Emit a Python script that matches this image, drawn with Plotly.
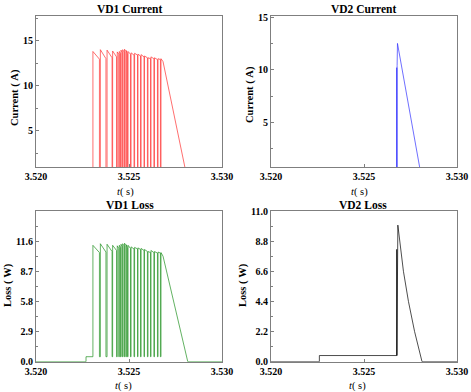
import plotly.graph_objects as go

# ---------------- data ----------------
x_ticks = [3.520, 3.525, 3.530]
x_tick_labels = ["3.520", "3.525", "3.530"]
i1_ticks = [5, 10, 15]
i2_ticks = [5, 10, 15]
p1_ticks = [0.0, 2.9, 5.8, 8.7, 11.6]
p2_ticks = [0.0, 2.2, 4.4, 6.6, 8.8, 11.0]

# VD1 switching pulses (rise / fall times, values at rise and at fall)
vd1_rise = [3.52306, 3.52346, 3.52382, 3.52412, 3.52437, 3.52448, 3.52457, 3.52466,
            3.52476, 3.52486, 3.52495, 3.52511, 3.52530, 3.52548, 3.52565, 3.52583,
            3.52602, 3.52618, 3.52637, 3.52656, 3.52672]
vd1_fall = [3.52341, 3.52376, 3.52409, 3.52433, 3.52445, 3.52454, 3.52463, 3.52473,
            3.52483, 3.52492, 3.52508, 3.52527, 3.52546, 3.52562, 3.52581, 3.52599,
            3.52616, 3.52634, 3.52653, 3.52669, 3.52683]
vd1_i_peak = [13.8, 14.0, 13.95, 13.85, 13.75, 13.8, 13.95, 14.0, 14.05, 13.9, 13.8,
              13.65, 13.6, 13.5, 13.45, 13.3, 13.1, 13.2, 13.1, 13.0, 13.0]
vd1_i_end = [12.95, 13.0, 13.1, 13.2, 13.5, 13.6, 13.7, 13.75, 13.8, 13.6, 13.5,
             13.4, 13.4, 13.3, 13.2, 13.1, 13.0, 13.0, 12.9, 12.9, 12.67]
vd1_i_tail_t = [3.52683, 3.52810]
vd1_i_tail = [12.67, 0.0]

vd1_p_peak = [11.2, 11.35, 11.3, 11.2, 11.15, 11.2, 11.3, 11.35, 11.4, 11.25, 11.2,
              11.05, 11.0, 10.95, 10.9, 10.8, 10.6, 10.7, 10.6, 10.55, 10.5]
vd1_p_end = [10.5, 10.55, 10.6, 10.7, 10.9, 11.0, 11.1, 11.15, 11.2, 11.0, 10.9,
             10.85, 10.85, 10.8, 10.7, 10.6, 10.5, 10.5, 10.45, 10.45, 10.15]
vd1_p_off = 0.48
vd1_p_off_start = 3.52269
vd1_p_tail_t = [3.52683, 3.52816]
vd1_p_tail = [10.15, 0.0]

# VD2
vd2_i_t = [3.52000, 3.52676, 3.52676, 3.52677, 3.52678, 3.52680, 3.52807, 3.53000]
vd2_i = [0.0, 0.0, 10.2, 0.0, 10.4, 12.5, 0.0, 0.0]

vd2_p_t = [3.52000, 3.52260, 3.52260, 3.52676, 3.52676, 3.52677, 3.52682, 3.52712,
           3.52739, 3.52772, 3.52812, 3.53000]
vd2_p = [0.0, 0.0, 0.45, 0.45, 8.2, 0.45, 9.97, 6.6, 4.4, 2.2, 0.0, 0.0]


def pulse_train(rise, fall, peak, end, off, tail_t, tail_v, pre=None):
    xs, ys = [3.520], [0.0]
    if pre is not None:
        xs += [pre, pre]
        ys += [0.0, off]
    n = len(rise)
    for k in range(n):
        xs += [rise[k], rise[k]]
        ys += [off, peak[k]]
        if k < n - 1:
            xs += [fall[k], fall[k]]
            ys += [end[k], off]
    xs += list(tail_t) + [3.530]
    ys += list(tail_v) + [0.0]
    return xs, ys


i1x, i1y = pulse_train(vd1_rise, vd1_fall, vd1_i_peak, vd1_i_end, 0.0,
                       vd1_i_tail_t, vd1_i_tail)
p1x, p1y = pulse_train(vd1_rise, vd1_fall, vd1_p_peak, vd1_p_end, vd1_p_off,
                       vd1_p_tail_t, vd1_p_tail, pre=vd1_p_off_start)

# ---------------- figure ----------------
fig = go.Figure()
fig.add_trace(go.Scatter(x=i1x, y=i1y, mode="lines", line=dict(color="#ff3030", width=0.7),
                         xaxis="x", yaxis="y", showlegend=False))
fig.add_trace(go.Scatter(x=vd2_i_t, y=vd2_i, mode="lines", line=dict(color="#3030ff", width=0.7),
                         xaxis="x2", yaxis="y2", showlegend=False))
fig.add_trace(go.Scatter(x=p1x, y=p1y, mode="lines", line=dict(color="#209020", width=0.7),
                         xaxis="x3", yaxis="y3", showlegend=False))
fig.add_trace(go.Scatter(x=vd2_p_t, y=vd2_p, mode="lines", line=dict(color="black", width=0.7),
                         xaxis="x4", yaxis="y4", showlegend=False))

SERIF = "Liberation Serif, Times New Roman, serif"
frame = "#7f7f7f"

xl = [36 / 471, 222 / 471]
xr = [271 / 471, 457 / 471]
yt = [(392 - 167) / 392, (392 - 16) / 392]
yb = [(392 - 361.7) / 392, (392 - 211) / 392]


def bold(labels):
    return ["<b>" + s + "</b>" for s in labels]


def xax(dom, anchor):
    return dict(domain=dom, anchor=anchor, range=[3.520, 3.530], tickvals=x_ticks,
                ticktext=bold(x_tick_labels), showgrid=False, zeroline=False,
                showline=True, mirror=True, linecolor=frame, linewidth=1,
                ticks="inside", ticklen=3, tickcolor=frame, automargin=False,
                tickfont=dict(family=SERIF, size=10, color="black"))


def yax(dom, anchor, rng, tv, fmt):
    step = tv[1] - tv[0]
    labels = [format(v, fmt) for v in tv]
    return dict(domain=dom, anchor=anchor, range=rng, tickvals=tv, ticktext=bold(labels),
                showgrid=False, zeroline=False, showline=True,
                mirror=True, linecolor=frame, linewidth=1, ticks="inside", ticklen=3,
                tickcolor=frame, ticklabelstandoff=0, automargin=False,
                minor=dict(ticks="inside", ticklen=2, dtick=step / 2, tick0=0,
                           tickcolor=frame, showgrid=False),
                tickfont=dict(family=SERIF, size=10, color="black"))


fig.update_layout(
    width=471, height=392, margin=dict(l=0, r=0, t=0, b=0),
    paper_bgcolor="white", plot_bgcolor="white",
    xaxis=xax(xl, "y"), yaxis=yax(yt, "x", [0.97, 17.74], i1_ticks, "d"),
    xaxis2=xax(xr, "y2"), yaxis2=yax(yt, "x2", [0.78, 15.1], i2_ticks, "d"),
    xaxis3=xax(xl, "y3"), yaxis3=yax(yb, "x3", [0, 14.5], p1_ticks, ".1f"),
    xaxis4=xax(xr, "y4"), yaxis4=yax(yb, "x4", [0, 11.0], p2_ticks, ".1f"),
)

NB = "\u00a0"
titles = [("VD1 Current", 129, 9), ("VD2 Current", 363, 9),
          ("VD1 Loss", 130, 205), ("VD2 Loss", 363, 205)]
ann = []
for txt, px, py in titles:
    ann.append(dict(text="<b>" + txt + "</b>", x=px / 471, y=1 - py / 392, xref="paper",
                    yref="paper", showarrow=False, xanchor="center", yanchor="middle",
                    font=dict(family=SERIF, size=11.5, color="black")))

xtitles = [(125, 192), (359, 192), (123, 386), (357, 386)]
for px, py in xtitles:
    ann.append(dict(text="<i>t</i>(" + NB + "s)", x=px / 471, y=1 - py / 392, xref="paper",
                    yref="paper", showarrow=False, xanchor="center", yanchor="middle",
                    font=dict(family=SERIF, size=10.5, color="black")))

ytitles = [("Current (" + NB + "A)", 15, 98), ("Current (" + NB + "A)", 250, 95),
           ("Loss (" + NB + "W)", 8, 285), ("Loss (" + NB + "W)", 243, 285)]
for txt, px, py in ytitles:
    ann.append(dict(text="<b>" + txt + "</b>", x=px / 471, y=1 - py / 392, xref="paper",
                    yref="paper", showarrow=False, xanchor="center", yanchor="middle",
                    textangle=-90, font=dict(family=SERIF, size=10.5, color="black")))

fig.update_layout(annotations=ann)
fig.write_html("out.html", config={"displayModeBar": False},
               post_script="document.body.style.margin='0px';document.body.style.overflow='hidden';")
